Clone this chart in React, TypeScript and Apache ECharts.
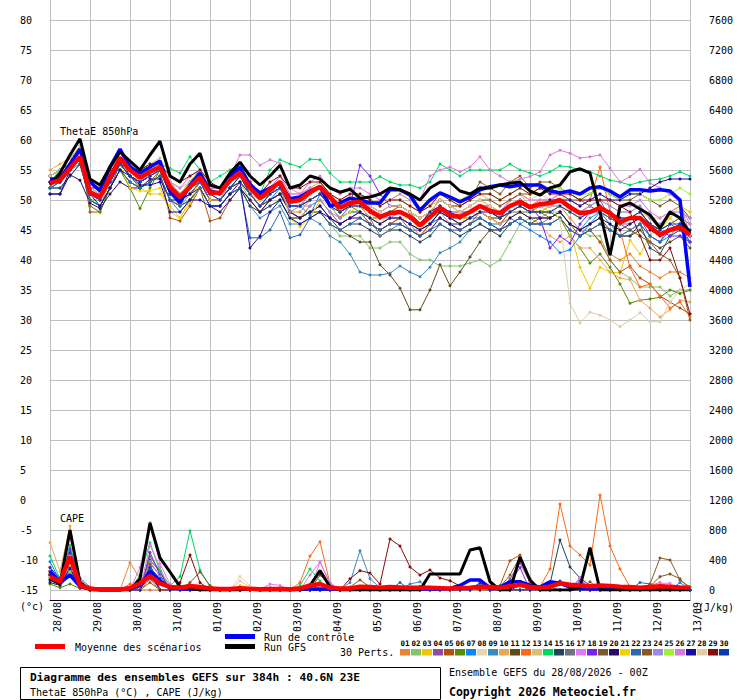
import React, { useEffect, useRef } from 'react';
import * as echarts from 'echarts';

const DATE_LABELS = ['28/08','29/08','30/08','31/08','01/09','02/09','03/09','04/09','05/09','06/09','07/09','08/09','09/09','10/09','11/09','12/09','13/09'];
const STEP_HOURS = 6;
const N = (DATE_LABELS.length - 1) * 4 + 1;
const HOURS = Array.from({ length: N }, (_, i) => String(i * STEP_HOURS));

const MEMBER_COLORS = ['#e8832f','#86c36e','#f2c500','#8e4ca8','#b0520c','#5a8a00','#0a84ff','#e8d4b0','#3a8bbf','#e8a858','#5e4a1a','#fa6a1a','#d4c07a','#00d860','#24435c','#6a7480','#e07af0','#7a20f0','#7a5a2c','#2c0a6a','#f0d400','#2a6aa8','#8c5a20','#9a8ae8','#a0f030','#d87ad8','#1a0aa0','#e0cca8','#8a0a0a','#0a3ab0'];
const MEMBER_NAMES = MEMBER_COLORS.map((_, i) => String(i + 1).padStart(2, '0'));

// ThetaE 850 hPa (°C)
const THETA_MEAN = [52.8,53.3,55.3,57.2,51.3,50.5,53.8,57.0, 55.0,53.7,54.7,55.5,52.2,50.5,52.2,53.8, 51.2,51.2,53.3,54.5,52.0,50.3,51.7,53.0, 49.7,50.0,51.3,52.2,50.5,48.7,49.5,49.7, 48.2,47.2,47.8,48.0,47.2,45.8,47.2,48.7, 47.5,47.2,48.0,49.0,48.2,47.8,49.0,49.7, 48.8,49.3,49.5,50.0,48.8,47.8,48.0,48.7, 47.8,46.3,47.0,47.0,45.5,44.2,45.0,45.5, 44.2];
const THETA_CTRL = [53.5,53.5,56,58.5,53,51.5,55.5,58.5, 55.5,54.5,55.5,56.5,51.5,49.5,52.5,54.5, 51.5,51,54,55.5,52.5,51.2,52,52.8, 50.2,50.5,51.5,52.2,49,49.5,50.3,50, 49.5,49.5,51.7,51.7,50.8,48.3,50,51.2, 50.5,49.7,50.5,51.7,52.2,52.5,52.2,52.5, 52.5,52.5,51.5,51.2,51.5,51,52,52.2, 51.5,50.5,51.7,51.7,51.5,51.7,51.5,50, 35.5];
const THETA_GFS = [52.5,54.5,57.5,60.2,53.5,52.5,55.5,58, 56.5,55,57.5,59.8,54,53,56,57.8, 52.5,52,54.5,56.3,54,52.5,54,55.8, 52,52.5,54,53.5,52,51.3,51.8,50.3, 50.5,51,52,51.7,51,50,52,53, 53,51.5,51,52,52,52.5,52.8,53, 51.5,50.8,52,52.5,54.7,55.2,54.5,48, 40.8,48.9,49.5,48.5,47.5,45.3,48,47, 44.5];

const THETA_M01 = [53,54,56,58,50,49,53,57, 55,53,55,56,51,49,51,53, 50,50,53,54,51,49,51,52, 48,48,50,51,49,47,48,48, 46,45,46,47,46,44,46,48, 46,46,47,48,47,46,48,49, 48,48,48,49,47,45,45,43, 41,40,41,39,38,37,38,38, 37];
const THETA_M02 = [52,53,55,57,50,49,52,56, 54,53,54,55,51,49,51,53, 50,50,52,53,50,48,49,50, 47,47,48,48,46,44,44,44, 42,42,43,43,41,40,40,39, 39,39,39.5,40,39,40,43,46, 47,47,48,48,46,45,44,44, 40,38,37,35.5,35.5,35.5,34,35, 35];
const THETA_M03 = [54,55,57,59,52,51,53,58, 56,52,51,51,49,47,50,53, 50,50,53,55,51,49,51,53, 48,49,51,52,50,48,49,49, 48,46,47,48,47,45,47,49, 47,46,48,49,48,47,50,51, 49,49,48,47,45,38.8,35.3,38.8, 38,37.8,43.3,41,44,46,47,45, 44];
const THETA_M04 = [53,53,55,57,51,50,54,57, 55,54,55,56,52,50,52,54, 51,51,53,54,52,50,51,53, 50,50,51,52,50,48,49,49, 47,46,47,47,46,45,46,48, 47,46,47,48,47,47,48,49, 48,49,49,50,49,48,49,50, 47,46,46,47,44,43,46,45, 44];
const THETA_M05 = [53,54,56,58,48,48,52,56, 54,52,53,55,47,46.5,49,52, 46.5,47,50,52,50,48,50,51, 48,47,49,50,48,46,47,48, 46,45,46,47,45,44,46,47, 46,45,46,48,47,46,48,49, 48,48,47,48,46,44,45,43, 40,38,39,37,36,34,33,32, 31];
const THETA_M06 = [52,53,55,57,49,48,52,55, 52,48.6,52,55,51,50,52,53, 51,50,52,53,51,49,50,51, 49,49,50,51,49,48,49,48, 47,47,48,48,47,46,47,48, 47,47,47,48,47,47,48,48, 48,48,48,47,44,42,39.5,41, 38.8,36,32.8,33.3,33.5,33.8,35,34.4, 35];
const THETA_M07 = [52,53,55,56,50,50,53,56, 54,53,54,55,51,50,51,53, 50,50,52,53,51,49,50,52, 49,49,47.5,51,49,47,48,48, 47,46,47,47,46,45,46,47, 46,46,47,47,46,46,47,46, 45,44,43,41.2,41.7,44,46,48, 46,44,45,46,44,43,44,46, 43];
const THETA_M08 = [54,55,56,58,52,51,55,58, 56,55,56,56,53,51,53,55, 52,52,54,55,53,51,52,54, 51,51,52,53,51,50,50,51, 50,49,50,50,49,48,49,50, 49,49,50,51,50,49,50,51, 50,51,50,51,50,49,50,51, 50,49,49,50,48,47,48,49, 47];
const THETA_M09 = [52,52,54,56,50,49,52,55, 53,52,53,54,50,48,50,52, 49,49,51,52,49,47,48,49, 46,46,47,46,44,43,41,38, 37.5,37.5,37.8,39,38,37.2,38.8,41.2, 42,43,45,46,45,45,46,47, 46,46,47,48,46,45,47,48, 47,46,47,48,46,45,46,47, 45];
const THETA_M10 = [55,56,57,59,52,51,54,58, 55,54,55,56,52,50,52,54, 51,51,53,54,51,50,51,52, 49,49,50,51,50,48,49,49, 47,46,47,47,47,45,47,48, 47,46,47,48,47,46,47,48, 47,46,44,43,44,42,42,40, 38,37,36.7,33.3,32,30.5,31.7,33.3, 33];
const THETA_M11 = [53,54,56,58,51,50,53,57, 54,53,54,55,52,50,51,53, 50,50,52,53,51,49,50,51, 48,47,48,48,46,45,44,43, 43,39.2,37.5,35.3,31.7,31.7,35,39.2, 35.7,38,40.5,43,45,45,46,47, 46,47,47,48,46,45,46,47, 45,44,44,45,43,42,43,44, 42];
const THETA_M12 = [53,54,56,58,51,50,53,57, 55,54,55,56,52,50,52,54, 51,51,53,55,52,50,52,53, 50,50,51,52,50,48,49,50, 48,47,48,48,47,46,48,49, 48,47,48,49,48,47,49,50, 49,50,50,51,50,49,50,55.5, 48,45,38.8,35.5,36,34,32,33, 30.5];
const THETA_M13 = [54,55,57,59,53,52,55,58, 56,55,56,57,53,52,53,55, 52,52,54,55,53,51,52,54, 51,51,52,53,51,50,51,51, 50,49,50,50,49,48,49,50, 49,49,50,51,50,49,50,51, 50,50,50,51,49,48,49,50, 49,48,48,49,47,47,48,49, 48];
const THETA_M14 = [53,55,56,58,52,51,55,58, 56,55,56,56,55.3,54.5,57.2,55, 53,54,55,56,52,51,55,56.7, 56,55.5,56.8,56.7,54.5,53,53,53, 53,53.9,53,52.5,52.5,52,53,56, 55,54,55,55,55,55,56,55, 54.5,54,54.7,55.7,55.5,55,54.7,54, 53.3,53,52.5,53,53.3,53.5,54,54.7, 54];
const THETA_M15 = [52,52,54,56,50,49,52,55, 53,52,53,54,50,49,50,52, 49,49,51,52,49,48,49,50, 47,47,48,49,47,45,46,46, 45,44,45,45,44,43,44,46, 45,44,45,46,45,44,46,47, 46,46,46,47,45,44,45,46, 45,44,44,46,42,41,44,45, 43];
const THETA_M16 = [53,53,55,57,51,50,53,56, 54,53,54,55,51,50,51,53, 50,50,52,54,51,49,51,52, 49,49,51,52,50,48,49,49, 47,44,45,46,45,45,46,48, 47,47,48,49,48,47,48,49, 48,48,49,49,48,47,48,49, 48,47,47,48,46,45,46,47, 46];
const THETA_M17 = [53,54,56,58,52,51,54,57, 55,54,55,56,53,51,53,55, 52,52,54,55,53,51,52,54, 51,51,52,52,51,49,50,50, 49,48,49,49,48,47,48,50, 49,48,49,50,49,48,50,51, 50,50,50,51,50,49,50,51, 50,49,49,50,48,47,48,49, 46];
const THETA_M18 = [53,53,55,57,51,50,53,56, 54,53,54,55,51,50,52,53, 50,50,52,54,51,49,51,52, 49,49,50,51,49,47,49,55.8, 54,51,49,49,48,47,48,49, 48,48,48,49,49,48,49,50, 49,47,42,44,42.8,46,48,48, 47,46,47,48,46,45,44,44, 43];
const THETA_M19 = [54,55,57,58,53,52,55,58, 56,54,55,56,53,51,53,55, 52,51,53,55,52,51,52,53, 50,50,51,52,50,49,50,50, 49,48,49,49,48,47,48,50, 49,48,49,50,50,49,50,51, 51,52,52,51,50,50,51,52, 51,50,50,51,50,49,50,49, 47];
const THETA_M20 = [51,51,54.2,53.3,49.5,48.6,51,53, 52,52,53.5,53.5,50,50,51,52, 49,48,50,52,50,48,50,51, 48,47,48,49,47,46,47,47, 46,45,46,46,45,44,45,47, 46,45,46,47,46,45,47,48, 47,47,47,48,46,45,46,47, 46,45,46,47,45,44,45,46, 44];
const THETA_M21 = [53,54,56,58,50,50,55,56, 52,51.5,51.5,52,48,47,49.5,52, 50,50,53,54,51,49,51,53, 47,45.5,47,50,49,47,48,49, 47,46,48,49,48,47,48,50, 49,48,49,50,49,48,49,50, 49,48,49,50,48,47,48,49, 48,46,47,48,47,45,47,49, 48];
const THETA_M22 = [52,53,55,57,50,49,52,55, 53,52,53,54,50,49,50,52, 49,49,51,52,43.7,43.7,45,48, 43.7,44.2,47,48,46,45,46,47, 46,45,46,46,45,44,45,46, 45,45,46,47,46,45,46,47, 46,46,46,47,45,44,45,46, 45,44,45,46,44,43,45,46, 44];
const THETA_M23 = [54,55,56,58,52,51,54,57, 55,54,55,56,52,51,53,55, 51,51,53,54,52,50,51,53, 50,50,51,52,50,48,49,50, 48,47,48,49,48,46,48,50, 49,49,50,53,52,51,53,54, 52,53,53,52,51,50,49,48, 47,46,45,44,43,41,40,37, 30];
const THETA_M24 = [53,54,55,57,51,50,53,57, 55,54,54,55,52,50,52,54, 51,50,53,54,51,49,51,52, 48,49,49,50,48,47,49,49, 48,47,47,48,47,46,47,49, 48,47,48,49,48,48,49,50, 49,49,49,50,49,48,49,50, 49,48,48,49,47,46,48,48, 47];
const THETA_M25 = [53,54,56,57,51,51,54,57, 55,54,55,55,52,51,53,54, 51,51,53,54,52,50,52,53, 50,50,51,52,51,49,50,51, 50,49,50,51,50,48,50,51, 50,50,51,51,51,50,51,52, 51,51,52,52,51,51,51,52, 51,50,51,51,50,50,51,52, 51];
const THETA_M26 = [53,54,56,58,52,51,55,58, 55,54,55,56,53,52,54,55, 52,52,54,57.5,57.5,55.8,56.7,56.1, 52,51,53,54,52,51,52,52, 51,50,50,51,50,50,54,55, 55.5,54.7,55.5,57.2,55,54,53,53.5, 53.9,54.7,57.5,58.3,57.8,57,57.2,57.5, 55.3,53,53.9,55.1,52.8,52,51,49.7, 44];
const THETA_M27 = [51,51,55,57,51,49,52,55, 54,52.5,52.5,53,48,48,50,50, 49,49,51,53,42,44,48,50, 47,46,47,48,47,46,47,48, 47,46,47,47,46,45,46,48, 47,46,47,48,48,47,49,50, 49,49,50,50,50,49,50,51, 50,50,51,51,52,53,53.5,53.5, 53.5];
const THETA_M28 = [54,55,57,58,52,51,55,57, 55,54,55,56,53,51,53,55, 52,51,53,55,52,50,52,53, 50,50,51,52,50,49,50,51, 49,48,49,49,48,47,48,50, 49,48,49,50,49,48,49,50, 49,49,49,46.7,32.8,29.5,31.3,30.8, 30,28.9,30,31.2,29.7,29.7,33,35, 36];
const THETA_M29 = [53,54,56,58,52,52,55,56, 55,55,56,56,54,53,54,55, 53,52,54,55,53,51,53,54, 52,52,53,53,51,50,51,51, 50,49,50,50,49,48,49,51, 50,49,50,51,51,50,51,52, 51,52,51,51,51,50,50,50, 50,49,48,44,40,40,42,37, 31];
const THETA_M30 = [53,53,55,57,51,50,53,56, 54,53,54,55,51,50,52,54, 51,50,52,54,51,49,51,52, 49,49,50,51,49,48,49,49, 48,47,48,48,47,46,48,49, 48,47,48,49,48,47,48,49, 48,48,48,49,48,47,48,49, 48,47,47,48,46,45,46,46, 45];

const THETA_MEMBERS = [THETA_M01,THETA_M02,THETA_M03,THETA_M04,THETA_M05,THETA_M06,THETA_M07,THETA_M08,THETA_M09,THETA_M10,THETA_M11,THETA_M12,THETA_M13,THETA_M14,THETA_M15,THETA_M16,THETA_M17,THETA_M18,THETA_M19,THETA_M20,THETA_M21,THETA_M22,THETA_M23,THETA_M24,THETA_M25,THETA_M26,THETA_M27,THETA_M28,THETA_M29,THETA_M30];

// CAPE (J/kg)
const CAPE_MEAN = [178,111,444,60,20,5,5,5, 27,89,187,89,40,30,53,40, 20,15,15,25,15,10,15,15, 10,20,60,80,30,20,20,45, 40,30,40,35,30,30,30,25, 20,25,30,45,40,30,50,70, 40,30,45,89,70,60,50,60, 55,45,40,30,40,50,45,35, 30];
const CAPE_CTRL = [250,100,200,50,15,15,15,15, 15,60,250,120,30,15,15,15, 15,15,15,15,15,15,15,15, 15,15,15,15,15,15,15,15, 15,15,15,15,15,15,15,15, 20,60,133,133,27,40,111,111, 60,40,111,89,40,20,15,15, 15,15,15,15,15,15,15,15, 15];
const CAPE_GFS = [150,80,800,100,0,0,0,0, 0,150,893,427,240,44,20,0, 0,0,0,0,20,0,0,0, 0,0,60,258,44,0,0,0, 0,0,0,0,0,0,213,213, 213,213,533,564,110,0,0,440, 133,0,0,0,0,40,564,0, 0,0,0,0,0,0,0,0, 0];

// members: [step index, CAPE] pairs, 0 elsewhere
const CAPE_M01 = [[0,300],[1,150],[2,500],[3,100],[4,20],[8,364],[9,150],[10,300],[11,120],[12,30],[60,60],[61,100]];
const CAPE_M02 = [[0,200],[1,100],[2,350],[3,60],[10,200],[11,150],[12,40]];
const CAPE_M03 = [[0,150],[1,60],[2,300],[3,40],[10,250],[11,120],[19,60],[20,30]];
const CAPE_M04 = [[0,250],[1,120],[2,400],[3,80],[10,350],[11,200],[46,150],[47,360],[48,100],[53,150]];
const CAPE_M05 = [[0,200],[1,90],[2,450],[3,60],[10,100],[45,60],[46,391],[47,467],[48,80],[49,20]];
const CAPE_M06 = [[0,80],[1,30],[2,80],[3,20],[10,450],[11,250]];
const CAPE_M07 = [[0,378],[1,120],[2,300],[3,160],[4,40],[10,200],[43,80],[63,100]];
const CAPE_M08 = [[0,200],[1,100],[2,400],[3,70],[10,150],[19,178],[20,60],[45,30]];
const CAPE_M09 = [[0,250],[1,130],[2,350],[3,60],[10,300],[30,100],[31,524],[32,150],[33,30],[36,80],[37,110]];
const CAPE_M10 = [[0,631],[1,250],[2,853],[3,120],[4,30],[10,250],[11,150]];
const CAPE_M11 = [[0,200],[1,100],[2,300],[3,50],[10,400],[11,250],[27,200],[28,60]];
const CAPE_M12 = [[0,250],[1,120],[2,500],[3,90],[8,80],[25,100],[26,453],[27,644],[28,80],[49,40],[50,280],[51,1147],[52,587],[53,467],[54,333],[55,1267],[56,587],[57,280],[58,40]];
const CAPE_M13 = [[0,150],[1,80],[2,350],[3,50],[10,180],[22,40]];
const CAPE_M14 = [[0,453],[1,150],[2,600],[3,100],[9,200],[10,631],[11,250],[12,60],[13,178],[14,791],[15,267],[16,44],[25,60],[26,280],[27,120]];
const CAPE_M15 = [[0,200],[1,110],[2,300],[3,60],[10,250],[49,30],[50,80],[51,667],[52,307],[53,160],[54,60],[60,60]];
const CAPE_M16 = [[0,150],[1,80],[2,250],[3,40],[10,200],[11,100],[50,40]];
const CAPE_M17 = [[0,300],[1,140],[2,700],[3,150],[9,300],[10,900],[11,350],[12,80],[22,80],[23,60],[27,373],[28,80],[53,170],[61,90],[62,90]];
const CAPE_M18 = [[0,250],[1,120],[2,550],[3,100],[10,500],[11,200],[46,100],[47,300],[53,120]];
const CAPE_M19 = [[0,200],[1,100],[2,400],[3,80],[10,350],[14,100],[15,240],[16,60],[54,110],[60,50],[61,178],[62,213],[63,150]];
const CAPE_M20 = [[0,100],[1,60],[2,200],[3,30],[10,150],[47,60]];
const CAPE_M21 = [[0,200],[1,90],[2,450],[3,70],[10,250],[11,100],[20,40]];
const CAPE_M22 = [[0,180],[1,80],[2,320],[3,60],[10,280],[35,100],[37,50],[59,100],[60,80]];
const CAPE_M23 = [[0,220],[1,110],[2,380],[3,70],[10,200],[30,40],[31,133],[32,40],[45,40],[46,200],[47,440],[48,150],[60,80],[61,427],[62,400],[63,133],[64,40]];
const CAPE_M24 = [[0,180],[1,90],[2,420],[3,80],[10,380],[11,180],[53,60]];
const CAPE_M25 = [[0,150],[1,70],[2,250],[3,40],[10,200],[26,80]];
const CAPE_M26 = [[0,220],[1,110],[2,500],[3,90],[10,600],[11,300],[26,200],[27,373],[28,100],[53,150]];
const CAPE_M27 = [[0,130],[1,70],[2,280],[3,40],[10,200],[43,40]];
const CAPE_M28 = [[0,180],[1,90],[2,330],[3,50],[10,160],[19,120],[20,40]];
const CAPE_M29 = [[0,200],[1,100],[2,380],[3,70],[10,250],[13,100],[14,467],[15,100],[30,150],[31,258],[32,227],[33,80],[34,680],[35,587],[36,307],[37,200],[38,267],[39,160],[40,124],[41,53],[42,30]];
const CAPE_M30 = [[0,300],[1,150],[2,500],[3,80],[10,300],[11,150],[43,100],[50,80],[51,120]];

const CAPE_MEMBERS = [CAPE_M01,CAPE_M02,CAPE_M03,CAPE_M04,CAPE_M05,CAPE_M06,CAPE_M07,CAPE_M08,CAPE_M09,CAPE_M10,CAPE_M11,CAPE_M12,CAPE_M13,CAPE_M14,CAPE_M15,CAPE_M16,CAPE_M17,CAPE_M18,CAPE_M19,CAPE_M20,CAPE_M21,CAPE_M22,CAPE_M23,CAPE_M24,CAPE_M25,CAPE_M26,CAPE_M27,CAPE_M28,CAPE_M29,CAPE_M30];

const FONT = '"DejaVu Sans Mono", "Liberation Mono", monospace';

function expand(pairs: number[][]): number[] {
  const a = new Array(N).fill(0);
  pairs.forEach(([i, v]) => { a[i] = v; });
  return a;
}

function txt(text: string, x: number, y: number, size = 10, bold = false, extra: any = {}) {
  return {
    type: 'text', x, y, silent: true,
    style: { text, fill: '#000', font: `${bold ? 'bold ' : ''}${size}px ${FONT}`, verticalAlign: 'middle', align: 'left', ...extra },
  };
}

export default function App() {
  const ref = useRef<HTMLDivElement>(null);
  useEffect(() => {
    if (!ref.current) return;
    const chart = echarts.init(ref.current, undefined, { renderer: 'svg' });

    const series: any[] = [];
    MEMBER_COLORS.forEach((c, k) => {
      const common = {
        type: 'line', xAxisIndex: 0, symbol: 'circle', symbolSize: 3, showSymbol: true,
        lineStyle: { width: 1, color: c }, itemStyle: { color: c }, silent: true, z: 2,
        emphasis: { disabled: true },
      };
      series.push({ ...common, name: 'T' + MEMBER_NAMES[k], yAxisIndex: 0, data: THETA_MEMBERS[k] });
      series.push({ ...common, name: 'C' + MEMBER_NAMES[k], yAxisIndex: 1, data: expand(CAPE_MEMBERS[k]) });
    });
    const thick = (name: string, data: number[], yi: number, color: string, w: number, z: number) => ({
      type: 'line', name, data, xAxisIndex: 0, yAxisIndex: yi, showSymbol: false, symbol: 'none',
      lineStyle: { width: w, color }, itemStyle: { color }, silent: true, z, emphasis: { disabled: true },
    });
    series.push(thick('ctrlT', THETA_CTRL, 0, '#0000ff', 3.5, 3));
    series.push(thick('ctrlC', CAPE_CTRL, 1, '#0000ff', 3.5, 3));
    series.push(thick('gfsT', THETA_GFS, 0, '#000000', 3, 4));
    series.push(thick('gfsC', CAPE_GFS, 1, '#000000', 3, 4));
    series.push(thick('meanT', THETA_MEAN, 0, '#ff0000', 4.5, 5));
    series.push(thick('meanC', CAPE_MEAN, 1, '#ff0000', 4.5, 5));

    const graphic: any[] = [
      txt('ThetaE 850hPa', 60, 131),
      txt('CAPE', 60, 518),
      txt('(°c)', 20, 606),
      txt('(J/kg)', 698, 607),
      { type: 'line', silent: true, shape: { x1: 35, y1: 646.5, x2: 65, y2: 646.5 }, style: { stroke: '#ff0000', lineWidth: 5 } },
      txt('Moyenne des scénarios', 75, 647),
      { type: 'line', silent: true, shape: { x1: 225, y1: 636.5, x2: 255, y2: 636.5 }, style: { stroke: '#0000ff', lineWidth: 5 } },
      txt('Run de contrôle', 264, 637),
      { type: 'line', silent: true, shape: { x1: 225, y1: 646.5, x2: 255, y2: 646.5 }, style: { stroke: '#000000', lineWidth: 5 } },
      txt('Run GFS', 264, 647),
      txt('30 Perts.', 340, 652),
      { type: 'rect', silent: true, shape: { x: 20.5, y: 667.5, width: 420, height: 32 }, style: { fill: '#fff', stroke: '#000', lineWidth: 1 } },
      txt('Diagramme des ensembles GEFS sur 384h : 40.6N 23E', 30, 677, 11.2, true),
      txt('ThetaE 850hPa (°C) , CAPE (J/kg)', 30, 692),
      txt('Ensemble GEFS du 28/08/2026 - 00Z', 449, 672),
      txt('Copyright 2026 Meteociel.fr', 449, 692, 11.5, true),
    ];
    MEMBER_COLORS.forEach((c, k) => {
      graphic.push({ type: 'rect', silent: true, shape: { x: 400 + 11 * k, y: 649, width: 10, height: 6.5 }, style: { fill: c } });
      graphic.push({
        type: 'text', silent: true, x: 405 + 11 * k, y: 643,
        style: { text: MEMBER_NAMES[k], fill: '#000', font: `bold 7.5px ${FONT}`, align: 'center', verticalAlign: 'middle' },
      });
    });

    const labelStyle = { fontFamily: FONT, fontSize: 10, color: '#000' };
    chart.setOption({
      animation: false,
      backgroundColor: '#fff',
      grid: [
        { left: 50, right: 50, top: 20, height: 570, containLabel: false },
        { left: 50, right: 50, top: 0, height: 600, containLabel: false },
      ],
      xAxis: [
        { type: 'category', gridIndex: 0, data: HOURS, boundaryGap: false, show: false },
        {
          type: 'category', gridIndex: 1, data: HOURS, boundaryGap: false,
          axisLine: { show: true, lineStyle: { color: '#000', width: 1 } },
          axisTick: { show: false },
          splitLine: { show: true, interval: 3, lineStyle: { color: '#c0c0c0', width: 1 } },
          axisLabel: {
            ...labelStyle, interval: 3, rotate: 90, margin: 2, verticalAlign: 'top', padding: [2, 0, 0, 0],
            formatter: (_v: string, idx: number) => (idx % 4 === 0 ? DATE_LABELS[idx / 4] : ''),
          },
        },
      ],
      yAxis: [
        {
          type: 'value', gridIndex: 0, min: -15, max: 80, interval: 5, position: 'left',
          axisLine: { show: false }, axisTick: { show: false },
          splitLine: { show: true, lineStyle: { color: '#c0c0c0', width: 1 } },
          axisLabel: { ...labelStyle, align: 'left', margin: 30, padding: [6, 0, 0, 0], formatter: (v: number) => String(v) },
        },
        {
          type: 'value', gridIndex: 0, min: 0, max: 7600, interval: 400, position: 'right',
          axisLine: { show: false }, axisTick: { show: false }, splitLine: { show: false },
          axisLabel: { ...labelStyle, align: 'left', margin: 19, padding: [6, 0, 0, 0], formatter: (v: number) => String(v) },
        },
        { type: 'value', gridIndex: 1, min: 0, max: 1, show: false, splitLine: { show: false } },
      ],
      series,
      graphic,
    });
    return () => chart.dispose();
  }, []);
  return <div ref={ref} style={{ position: 'fixed', left: 0, top: 0, width: 740, height: 700, background: '#fff' }} />;
}
